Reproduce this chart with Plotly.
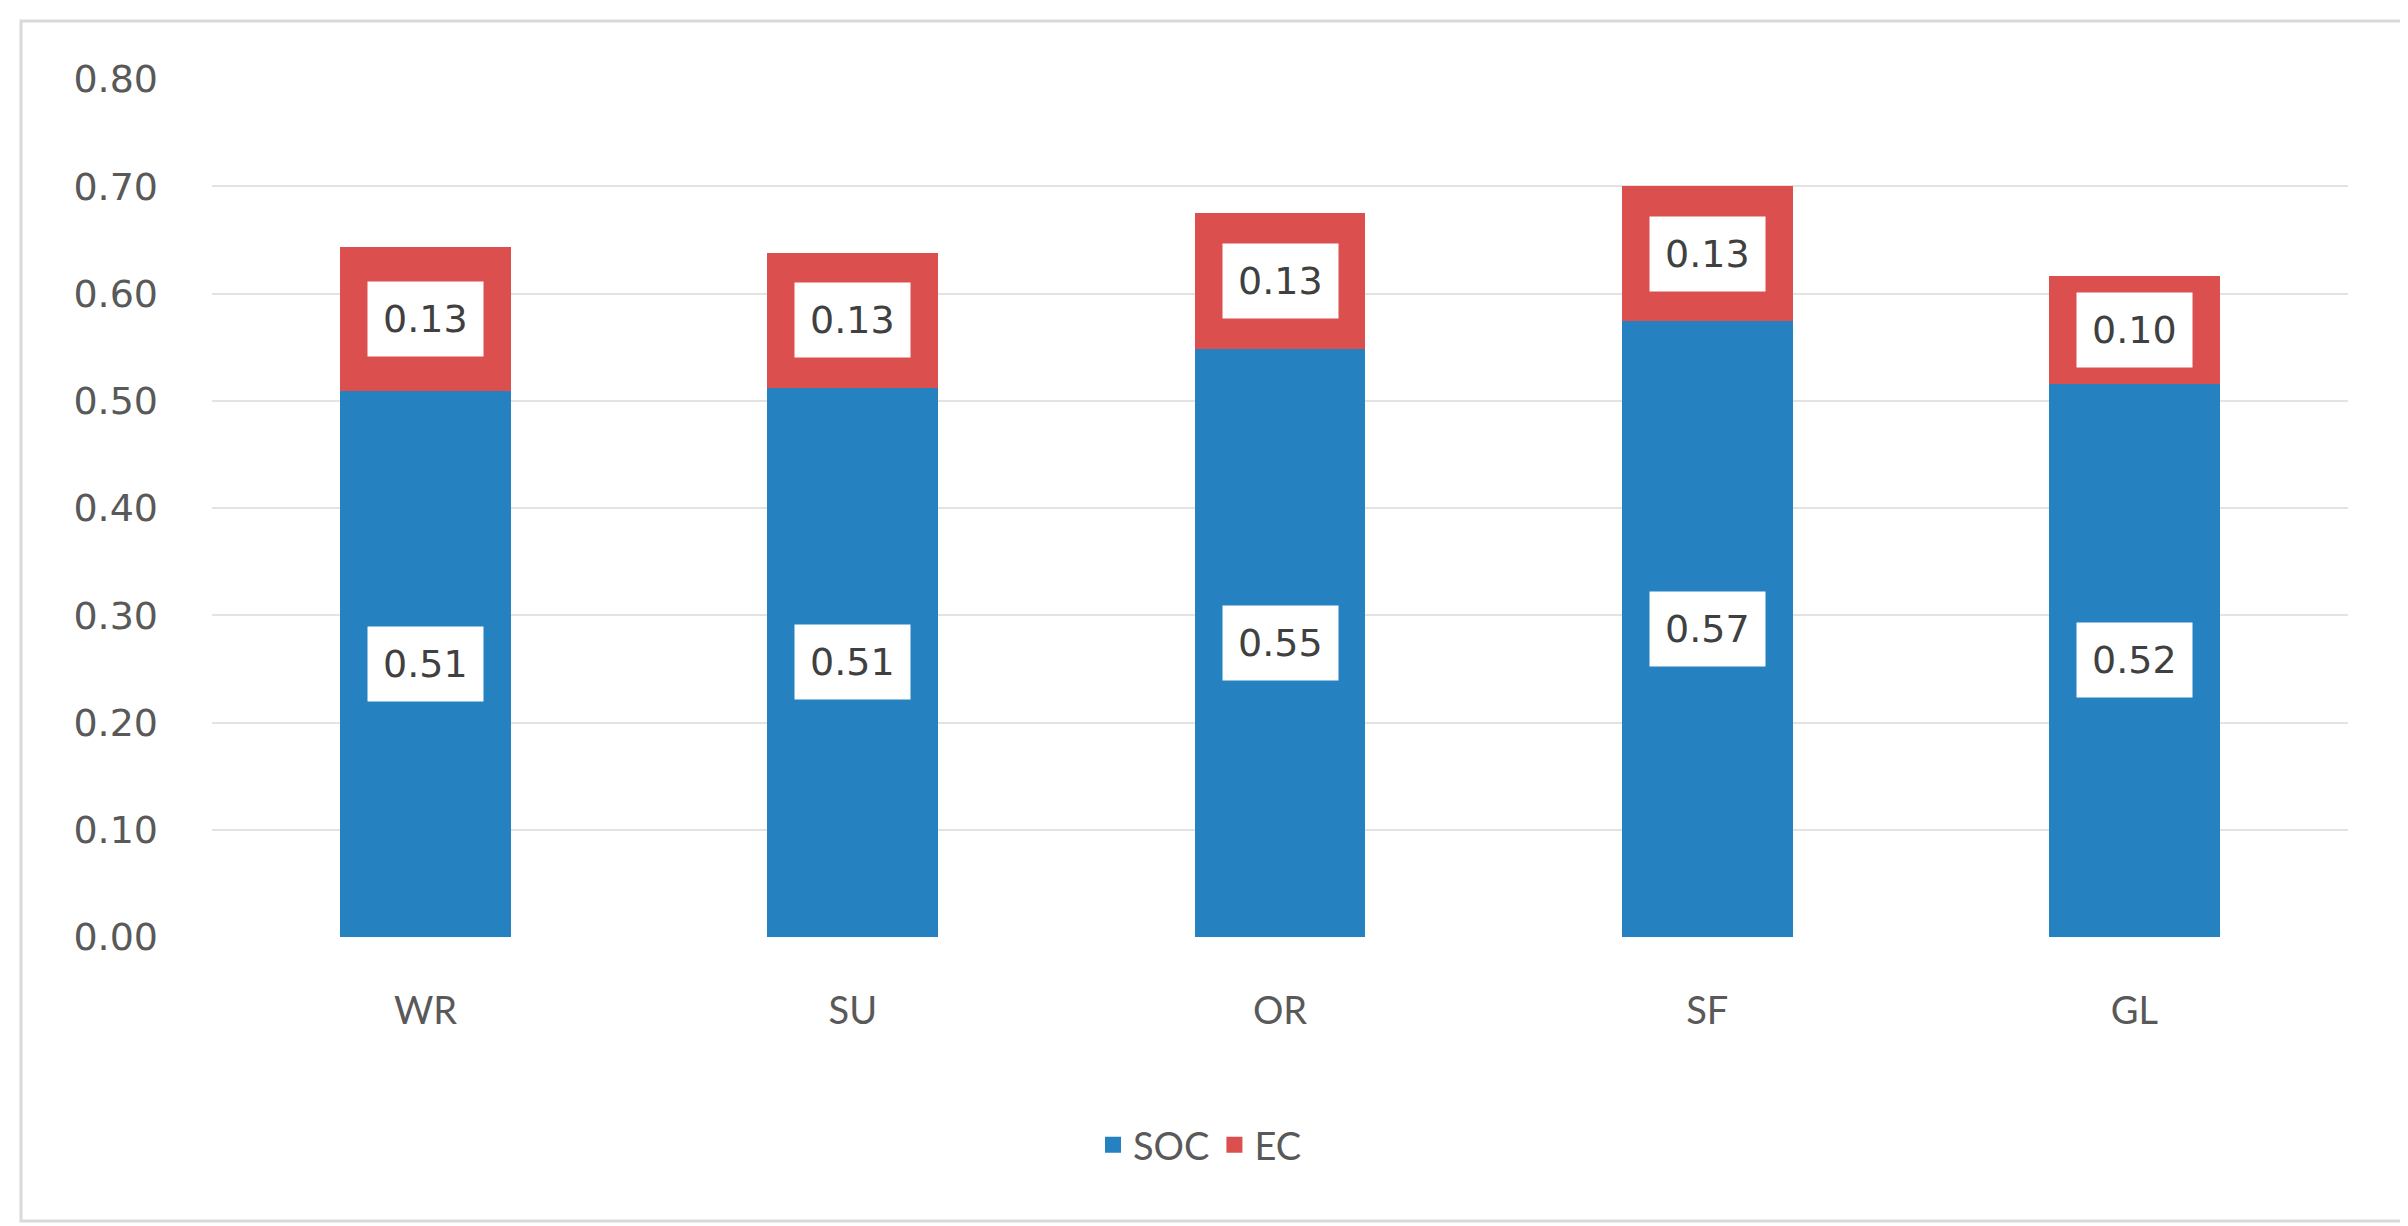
import plotly.graph_objects as go

categories = ["WR", "SU", "OR", "SF", "GL"]
soc = [0.509, 0.512, 0.548, 0.574, 0.516]
ec = [0.134, 0.126, 0.127, 0.126, 0.100]
y_ticks = [0.0, 0.1, 0.2, 0.3, 0.4, 0.5, 0.6, 0.7, 0.8]
y_tick_labels = ["0.00", "0.10", "0.20", "0.30", "0.40", "0.50", "0.60", "0.70", "0.80"]

BLUE = "#2581C0"
RED = "#DB4F4F"
NUM_FONT = "DejaVu Sans"
TXT_FONT = "Lato"
W, H = 2408, 1226
L, R, T, B = 204, 68, 71, 297
pw, ph = W - L - R, H - T - B

fig = go.Figure()
fig.add_trace(go.Bar(x=categories, y=soc, name="SOC", marker=dict(color=BLUE, line=dict(width=0)),
                     showlegend=False, hoverinfo="x+y"))
fig.add_trace(go.Bar(x=categories, y=ec, name="EC", marker=dict(color=RED, line=dict(width=0)),
                     showlegend=False, hoverinfo="x+y"))
# legend entries
fig.add_trace(go.Scatter(x=[None], y=[None], mode="markers", name="SOC",
                         marker=dict(symbol="square", size=16, color=BLUE)))
fig.add_trace(go.Scatter(x=[None], y=[None], mode="markers", name="EC",
                         marker=dict(symbol="square", size=16, color=RED)))

annotations = []
for c, s, e in zip(categories, soc, ec):
    for val, ymid in ((s, s / 2), (e, s + e / 2)):
        annotations.append(dict(x=c, y=ymid, xref="x", yref="y", text=f"{val:.2f}",
                                showarrow=False, bgcolor="white", borderpad=15,
                                font=dict(family=NUM_FONT, size=38, color="#404040")))

def px_to_paper_x(px):
    return (px - L) / pw

def px_to_paper_y(py):
    return (H - B - py) / ph

fig.add_shape(type="rect", xref="paper", yref="paper",
              x0=px_to_paper_x(13), x1=px_to_paper_x(2396),
              y0=px_to_paper_y(1213), y1=px_to_paper_y(13),
              line=dict(color="#D9D9D9", width=3), fillcolor="rgba(0,0,0,0)", layer="below")

fig.update_layout(
    width=W, height=H,
    margin=dict(l=L, r=R, t=T, b=B, pad=0),
    barmode="stack", bargap=0.6,
    plot_bgcolor="white", paper_bgcolor="white",
    font=dict(family=TXT_FONT, size=38, color="#595959"),
    annotations=annotations,
    legend=dict(orientation="h", traceorder="normal", x=px_to_paper_x(1192), xanchor="center",
                y=px_to_paper_y(1137), yanchor="middle",
                font=dict(family=TXT_FONT, size=38, color="#595959"),
                itemsizing="trace", bgcolor="rgba(0,0,0,0)"),
    xaxis=dict(showgrid=False, showline=False, zeroline=False, ticks="",
               tickfont=dict(family=TXT_FONT, size=38, color="#595959"),
               ticklabelstandoff=48),
    yaxis=dict(range=[0, 0.8], tickvals=y_ticks, ticktext=y_tick_labels,
               showgrid=True, gridcolor="#E3E3E3", gridwidth=2, zeroline=False,
               showline=False, ticks="", ticklabelstandoff=53,
               tickfont=dict(family=NUM_FONT, size=38, color="#595959")),
)

fig.write_html("out.html")
